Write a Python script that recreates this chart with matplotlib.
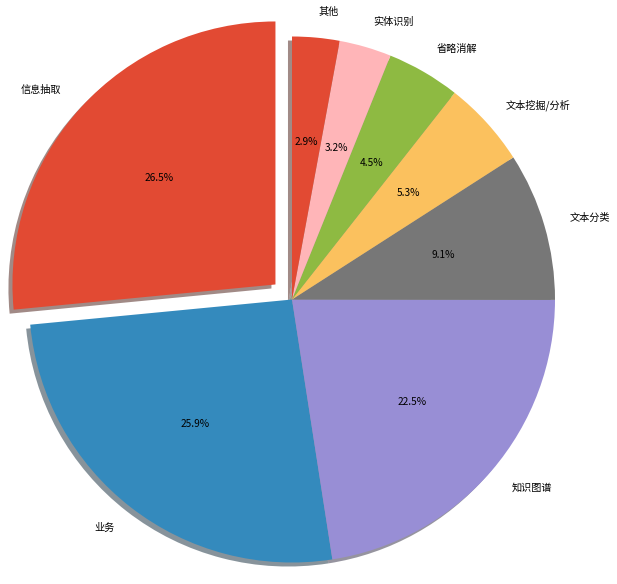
import matplotlib
matplotlib.use('Agg')
import matplotlib.pyplot as plt

plt.rcParams['font.family'] = ['Noto Sans CJK SC', 'DejaVu Sans']

# 数据
labels = ['信息抽取', '业务', '知识图谱', '文本分类', '文本挖掘/分析', '省略消解', '实体识别', '其他']
sizes = [26.5, 25.9, 22.5, 9.1, 5.3, 4.5, 3.2, 2.9]
colors = ['#E24A33', '#348ABD', '#988ED5', '#777777', '#FBC15E', '#8EBA42', '#FFB5B8', '#E24A33']
explode = [0.085, 0, 0, 0, 0, 0, 0, 0]

fig = plt.figure(figsize=(6.17, 5.84), dpi=100)
ax = fig.add_axes([0, 0, 1, 1])
ax.pie(sizes, labels=labels, colors=colors, explode=explode, autopct='%1.1f%%',
       startangle=90,
       shadow={'ox': -0.011, 'oy': -0.011, 'shade': 0.7, 'edgecolor': 'none'},
       textprops={'fontsize': 7.3})

# 饼图圆心与半径（像素）
cx, cy, r = 292, 299.5, 263
ax.set_xlim(-cx / r, (617 - cx) / r)
ax.set_ylim(-(584 - cy) / r, cy / r)
ax.set_aspect('auto')
ax.axis('off')

fig.savefig('out.png', dpi=100)
